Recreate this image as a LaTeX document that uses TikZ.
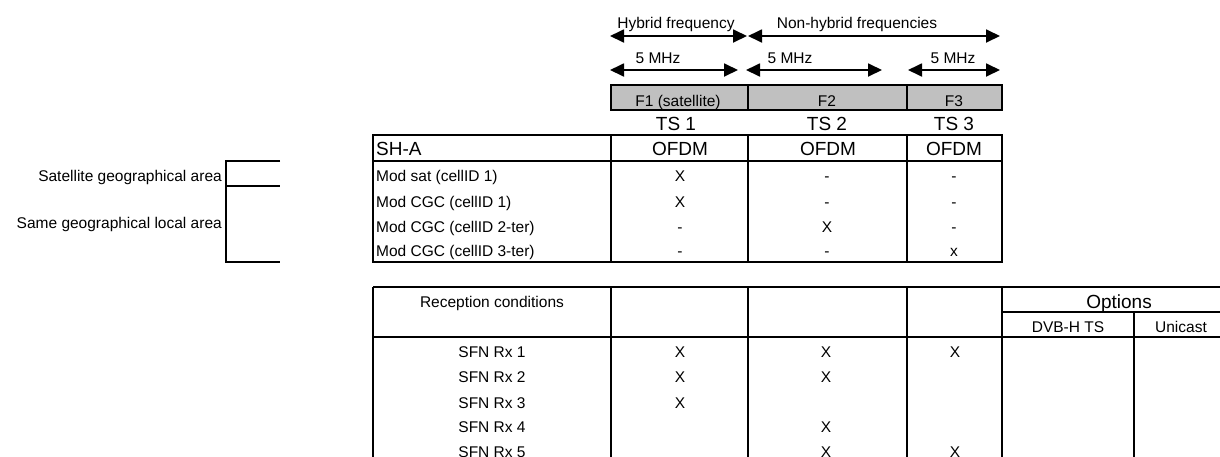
\documentclass[tikz,border=0pt]{standalone}
\usepackage{fontspec}
\setmainfont{Liberation Sans}
\usetikzlibrary{arrows.meta}
\definecolor{bargrey}{RGB}{192,192,192}
\begin{document}
\begin{tikzpicture}[x=1pt,y=-1pt,
  sm/.style={font=\fontsize{15.5}{18}\selectfont, inner sep=0pt, anchor=base},
  smL/.style={sm, anchor=base west},
  smR/.style={sm, anchor=base east},
  bg/.style={font=\fontsize{19}{22}\selectfont, inner sep=0pt, anchor=base},
  bgL/.style={bg, anchor=base west},
  gridline/.style={line width=1.2pt, black},
  dblarrow/.style={line width=1.8pt, {Triangle[length=14pt,width=13pt]}-{Triangle[length=14pt,width=13pt]}},
]
\useasboundingbox (0,0) rectangle (1220,456);
\begin{scope}
\clip (0,0) rectangle (1220,456);

% ---------- frequency arrows ----------
\coordinate (h1) at (610,36);  \coordinate (h2) at (747,36);
\coordinate (n1) at (748,36);  \coordinate (n2) at (1000,36);
\coordinate (a1) at (610,70);  \coordinate (a2) at (738,70);
\coordinate (b1) at (746,70);  \coordinate (b2) at (882,70);
\coordinate (c1) at (908,70);  \coordinate (c2) at (1000,70);
\draw[dblarrow] (h1) -- (h2);
\draw[dblarrow] (n1) -- (n2);
\draw[dblarrow] (a1) -- (a2);
\draw[dblarrow] (b1) -- (b2);
\draw[dblarrow] (c1) -- (c2);
\node[sm] (hyb) at (676,28) {Hybrid frequency};
\node[sm] (nonhyb) at (857,28) {Non-hybrid frequencies};
\node[sm] (mhz1) at (658,63) {5 MHz};
\node[sm] (mhz2) at (790,63) {5 MHz};
\node[sm] (mhz3) at (953,63) {5 MHz};

% ---------- grey frequency bar ----------
\draw[gridline, fill=bargrey] (611,85) rectangle (1002,110);
\draw[gridline] (748,85) -- (748,110);
\draw[gridline] (907,85) -- (907,110);
\node[sm] (f1) at (678,106) {F1 (satellite)};
\node[sm] (f2) at (827,106) {F2};
\node[sm] (f3) at (954,106) {F3};

\node[bg] (ts1) at (676,130.5) {TS 1};
\node[bg] (ts2) at (827,130.5) {TS 2};
\node[bg] (ts3) at (954,130.5) {TS 3};

% ---------- SH-A table ----------
\draw[gridline] (373,135) rectangle (1002,262);
\draw[gridline] (373,161) -- (1002,161);
\foreach \xx in {611,748,907} \draw[gridline] (\xx,135) -- (\xx,262);
\node[bgL] (sha) at (376,155) {SH-A};
\node[bg] (ofdm1) at (680,155) {OFDM};
\node[bg] (ofdm2) at (828,155) {OFDM};
\node[bg] (ofdm3) at (954,155) {OFDM};

\node[smL] (r1) at (376,181) {Mod sat (cellID 1)};
\node[smL] (r2) at (376,207) {Mod CGC (cellID 1)};
\node[smL] (r3) at (376,232.5) {Mod CGC (cellID 2-ter)};
\node[smL] (r4) at (376,256.5) {Mod CGC (cellID 3-ter)};

\node[sm] (r1a) at (680,181) {X};
\node[sm] (r1b) at (827,181) {-};
\node[sm] (r1c) at (954,181) {-};
\node[sm] (r2a) at (680,207) {X};
\node[sm] (r2b) at (827,207) {-};
\node[sm] (r2c) at (954,207) {-};
\node[sm] (r3a) at (680,232.5) {-};
\node[sm] (r3b) at (827,232.5) {X};
\node[sm] (r3c) at (954,232.5) {-};
\node[sm] (r4a) at (680,256.5) {-};
\node[sm] (r4b) at (827,256.5) {-};
\node[sm] (r4c) at (954,256.5) {x};

% ---------- left bracket ----------
\draw[gridline] (280,161) -- (226,161) -- (226,262) -- (280,262);
\draw[gridline] (226,186) -- (280,186);
\node[smR] (satarea) at (222,181.5) {Satellite geographical area};
\node[smR] (samearea) at (222,228.5) {Same geographical local area};

% ---------- reception table ----------
\draw[gridline] (373,287) -- (1240,287);
\draw[gridline] (373,337) -- (1240,337);
\draw[gridline] (1002,312) -- (1240,312);
\foreach \xx in {373,611,748,907,1002} \draw[gridline] (\xx,287) -- (\xx,470);
\draw[gridline] (1134,312) -- (1134,470);

\node[sm] (recep) at (492,307.5) {Reception conditions};
\node[bg] (opts) at (1119,308.5) {Options};
\node[sm] (dvbh) at (1068,332.5) {DVB-H TS};
\node[sm] (unic) at (1181,332.5) {Unicast};

\node[sm] (rx1) at (492,357.5) {SFN Rx 1};
\node[sm] (rx2) at (492,382.5) {SFN Rx 2};
\node[sm] (rx3) at (492,408) {SFN Rx 3};
\node[sm] (rx4) at (492,432.5) {SFN Rx 4};
\node[sm] (rx5) at (492,457.5) {SFN Rx 5};

\node[sm] (x1a) at (680,357.5) {X};
\node[sm] (x1b) at (826,357.5) {X};
\node[sm] (x1c) at (955,357.5) {X};
\node[sm] (x2a) at (680,382.5) {X};
\node[sm] (x2b) at (826,382.5) {X};
\node[sm] (x3a) at (680,408) {X};
\node[sm] (x4b) at (826,432.5) {X};
\node[sm] (x5b) at (826,457.5) {X};
\node[sm] (x5c) at (955,457.5) {X};
\end{scope}
\end{tikzpicture}
\end{document}
